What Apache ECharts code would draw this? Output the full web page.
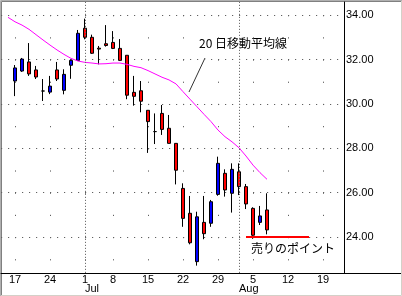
<!DOCTYPE html>
<html><head><meta charset="utf-8">
<script src="https://cdn.jsdelivr.net/npm/echarts@6/dist/echarts.min.js"></script>
<style>html,body{margin:0;padding:0;background:#fff}#c{width:402px;height:296px}</style>
</head><body><div id="c"></div><script>
// trading days shown on the axis (June 13 .. Aug 22)
const dates = ['6/13','6/14','6/17','6/18','6/19','6/20','6/21','6/24','6/25','6/26','6/27','6/28',
  '7/1','7/2','7/3','7/5','7/8','7/9','7/10','7/11','7/12','7/15','7/16','7/17','7/18','7/19',
  '7/22','7/23','7/24','7/25','7/26','7/29','7/30','7/31','8/1','8/2','8/5','8/6','8/7','8/8','8/9',
  '8/12','8/13','8/14','8/15','8/16','8/19','8/20','8/21','8/22'];
const weekLabels = ['6/17','6/24','7/1','7/8','7/15','7/22','7/29','8/5','8/12','8/19'];
const monthDates = ['7/1','8/1'];
const monthNames = ['Jul','Aug'];

// daily candles from 6/17
const candleStart = '6/17';
const opens  = [31.03,31.48,31.89,31.53,30.58,30.53,31.53,30.61,31.74,31.96,
  33.41,33.00,32.51,32.71, 32.77,32.50,32.19,30.52,30.59, 29.71,28.75,29.57,28.90,28.22,
  26.19,25.07,22.89,24.66,24.62, 25.92,26.87,25.97,26.94,26.27, 25.29,24.66,25.22];
const closes = [31.62,32.02,31.35,31.21,30.58,30.80,31.12,31.33,31.96,33.18,
  33.00,32.28,32.47,32.63, 32.50,31.96,30.39,30.34,30.12, 29.20,28.75,28.85,28.22,27.01,
  24.84,23.74,24.91,24.15,25.59, 27.32,26.12,27.05,26.27,25.49, 24.08,24.95,24.32];
const lows   = [30.35,31.44,31.26,31.12,30.13,30.44,31.03,30.43,31.13,31.93,
  32.91,32.25,31.78,32.58, 32.47,31.93,30.21,29.92,29.62, 27.79,28.19,28.60,28.22,26.37,
  24.46,23.67,22.71,23.90,24.46, 25.86,25.82,25.10,25.89,25.26, 23.92,24.54,24.12];
const highs  = [31.75,32.07,32.74,31.71,31.12,31.26,31.89,31.56,32.01,33.33,
  33.84,33.12,32.61,33.55, 33.28,32.92,32.19,31.26,31.03, 29.71,29.57,29.95,29.50,28.22,
  26.42,25.85,25.14,25.85,25.67, 27.62,27.05,27.32,27.32,26.39, 25.34,25.40,25.97];

// 20-day moving average from 6/14
const maStart = '6/14';
const ma20 = [33.90,33.70,33.55,33.36,33.12,32.88,32.65,32.43,32.23,32.05,31.93,
  31.87,31.84,31.80,31.81,31.84,31.84,31.78,31.69,31.63,31.50,31.35,31.20,31.08,30.90,
  30.55,30.21,29.87,29.53,29.20,28.82,28.52,28.29,28.02,27.65,27.24,26.90,26.60];

const sellLevel = 24;
const sellFrom = '8/2', sellTo = '8/15';

const ci = dates.indexOf(candleStart);
const candleData = dates.map((d, i) => {
  const k = i - ci;
  return (k >= 0 && k < opens.length) ? [opens[k], closes[k], lows[k], highs[k]] : '-';
});
const mi = dates.indexOf(maStart);
const maData = dates.map((d, i) => {
  const k = i - mi;
  return (k >= 0 && k < ma20.length) ? ma20[k] : '-';
});

const chart = echarts.init(document.getElementById('c'), null, {renderer: 'canvas'});
const lab = {color: '#000', fontSize: 11, fontFamily: 'Liberation Sans'};
chart.setOption({
  animation: false,
  grid: {left: 1, right: 58, top: 2, bottom: 23},
  xAxis: [
    {
      type: 'category', data: dates, boundaryGap: false, position: 'bottom',
      axisLine: {show: true, lineStyle: {color: '#000', width: 1}},
      axisTick: {show: false},
      axisLabel: Object.assign({
        interval: (i, v) => weekLabels.includes(v),
        formatter: v => v.split('/')[1],
        margin: 1
      }, lab),
      splitLine: {show: true, interval: (i, v) => weekLabels.includes(v),
        lineStyle: {color: '#606060', width: 1, type: [0, 13.1, 1.2, 7.89]}}
    },
    {
      type: 'category', data: dates, boundaryGap: false, position: 'bottom',
      axisLine: {show: false}, axisTick: {show: false}, splitLine: {show: false},
      axisLabel: Object.assign({
        interval: (i, v) => monthDates.includes(v),
        formatter: v => monthNames[monthDates.indexOf(v)],
        align: 'left', margin: 10
      }, lab)
    }
  ],
  yAxis: {
    type: 'value', position: 'right', min: 22.378, max: 34.591,
    axisLine: {show: true, lineStyle: {color: '#000', width: 1}},
    axisTick: {show: false},
    axisLabel: Object.assign({formatter: v => v.toFixed(2), margin: 2,
      showMinLabel: false, showMaxLabel: false}, lab),
    splitLine: {show: true, showMinLine: false, showMaxLine: false,
      lineStyle: {color: '#606060', width: 1, type: [1.2, 5.8]}}
  },
  series: [
    {
      type: 'line', name: '20日移動平均線', data: maData, showSymbol: false, symbol: 'none',
      lineStyle: {color: '#ff00ff', width: 1},
      markLine: {symbol: 'none', label: {show: false},
        lineStyle: {color: '#707070', type: [1.2, 1.8], width: 1},
        data: monthDates.map(d => ({xAxis: d}))}
    },
    {
      type: 'candlestick', data: candleData, barWidth: 4,
      itemStyle: {color: '#0000ff', color0: '#ff0000', borderColor: '#000', borderColor0: '#000',
        borderColorDoji: '#000', borderWidth: 1},
      markLine: {symbol: 'none', label: {show: false},
        lineStyle: {color: '#ff0000', width: 2, type: 'solid'},
        data: [[{coord: [sellFrom, sellLevel]}, {coord: [sellTo, sellLevel]}]]}
    }
  ],
  graphic: [
    {type: 'text', left: 199, top: 37,
      style: {text: '20 日移動平均線', fill: '#000', font: '12px "Noto Sans CJK JP"'}},
    {type: 'line', shape: {x1: 205, y1: 58, x2: 189, y2: 92},
      style: {stroke: '#333', lineWidth: 1}},
    {type: 'text', left: 251, top: 242,
      style: {text: '売りのポイント', fill: '#000', font: '12px "Noto Sans CJK JP"'}},
    {type: 'line', shape: {x1: 344, y1: 273.5, x2: 402, y2: 273.5},
      style: {stroke: '#000', lineWidth: 1}},
    {type: 'polyline', shape: {points: [[401.5, 0.5], [401.5, 295.5], [0.5, 295.5]]},
      style: {stroke: '#d4d0c8', lineWidth: 1}},
    {type: 'polyline', shape: {points: [[0.5, 296], [0.5, 0.5], [402, 0.5]]},
      style: {stroke: '#b0b0b0', lineWidth: 1}},
    {type: 'polyline', shape: {points: [[1.5, 295], [1.5, 1.5], [401, 1.5]]},
      style: {stroke: '#808080', lineWidth: 1}}
  ]
});
</script></body></html>
